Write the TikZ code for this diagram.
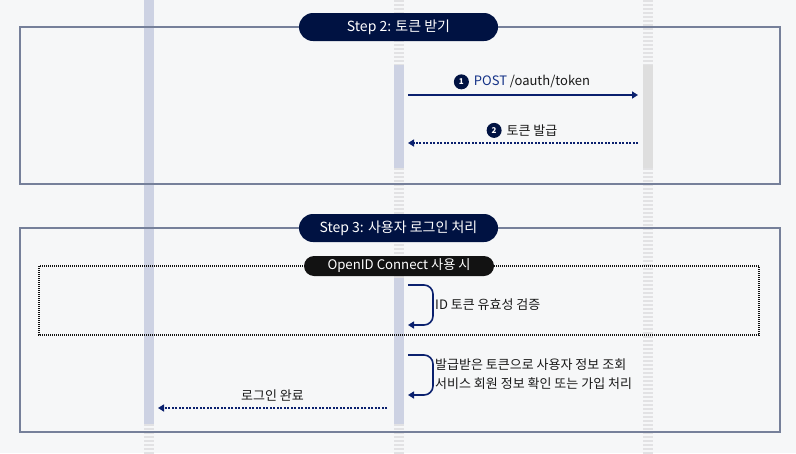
\documentclass[tikz,border=0pt]{standalone}
\usepackage{fontspec}
\setmainfont{Noto Sans CJK KR}
\usetikzlibrary{positioning,arrows.meta}
\definecolor{bgcol}{RGB}{246,247,248}
\definecolor{lanecol}{RGB}{205,210,227}
\definecolor{lanegray}{RGB}{222,222,222}
\definecolor{stripecol}{RGB}{226,226,228}
\definecolor{framecol}{RGB}{118,128,154}
\definecolor{navy}{RGB}{0,18,66}
\definecolor{arrowcol}{RGB}{10,32,110}
\definecolor{postblue}{RGB}{20,50,135}
\definecolor{pillblack}{RGB}{18,18,18}
\definecolor{txtcol}{RGB}{25,25,25}

\begin{document}
\begin{tikzpicture}[x=1pt, y=-1pt,
  frame/.style={draw=framecol, line width=1.6pt},
  steppill/.style={fill=navy, text=white, rounded corners=14pt, minimum width=199pt,
    minimum height=28pt, inner sep=0pt, font=\fontsize{14}{16}\selectfont},
  optpill/.style={fill=pillblack, text=white, rounded corners=10pt, minimum width=190pt,
    minimum height=20pt, inner sep=0pt, font=\fontsize{13.2}{15}\selectfont},
  msg/.style={draw=arrowcol, line width=1.6pt, -{Triangle[length=6pt,width=7pt]}},
  reply/.style={msg, dash pattern=on 2pt off 1.5pt},
  numdot/.style={circle, fill=navy, text=white, inner sep=0pt, minimum size=15pt,
    font=\fontsize{8}{8}\selectfont\bfseries},
  lbl/.style={text=txtcol, font=\fontsize{13}{19}\selectfont, inner sep=1pt}
]
\fill[bgcol] (0,0) rectangle (796,453);
\useasboundingbox (0,0) rectangle (796,453);

% lifelines
\foreach \lx in {149,399,648}{
  \foreach \sy in {1,5,...,453}{
    \draw[stripecol, line width=2pt] (\lx-5,\sy) -- (\lx+5,\sy);
  }
}
\fill[lanecol] (144,0) rectangle (154,424);
\fill[lanecol] (394,65) rectangle (404,168);
\fill[lanecol] (394,278) rectangle (404,424);
\fill[lanegray] (643,65) rectangle (653,168);

% step frames
\draw[frame] (20,27) rectangle (780,184);
\node[steppill] (step2) at (398.5,27) {Step 2: 토큰 받기};
\draw[frame] (20,228) rectangle (780,432);
\node[steppill] (step3) at (398.5,228) {Step 3: 사용자 로그인 처리};
\draw[pillblack, line width=1.3pt, dash pattern=on 1pt off 1pt] (39,266) rectangle (759,335);
\node[optpill] (oidc) at (399,266) {OpenID Connect 사용 시};

% message ends
\coordinate (c1) at (408,95);
\coordinate (s1) at (638,95);
\coordinate (s2) at (638,143);
\coordinate (c2) at (408,143);
\coordinate (v1a) at (408,285);
\coordinate (v1b) at (408,325);
\coordinate (v2a) at (408,355);
\coordinate (v2b) at (408,395);
\coordinate (c3) at (387,408);
\coordinate (u3) at (158,408);

% messages
\draw[msg] (c1) -- (s1) node[midway, above=5pt, lbl, xshift=9pt] (l1) {\textcolor{postblue}{POST} /oauth/token};
\node[numdot, left=3pt of l1] (n1) {1};
\draw[reply] (s2) -- (c2) node[midway, above=5pt, lbl, xshift=9pt] (l2) {토큰 발급};
\node[numdot, left=3pt of l2] (n2) {2};

\draw[msg, rounded corners=9pt] (v1a) -- ++(25,0) -- ++(0,40) -- (v1b);
\node[lbl, anchor=west] (t1) at (434,305) {ID 토큰 유효성 검증};
\draw[msg, rounded corners=9pt] (v2a) -- ++(25,0) -- ++(0,40) -- (v2b);
\node[lbl, anchor=west, align=left] (t2) at (434,374) {발급받은 토큰으로 사용자 정보 조회\\서비스 회원 정보 확인 또는 가입 처리};

\draw[reply] (c3) -- (u3) node[midway, above=5pt, lbl] (l3) {로그인 완료};
\end{tikzpicture}
\end{document}
